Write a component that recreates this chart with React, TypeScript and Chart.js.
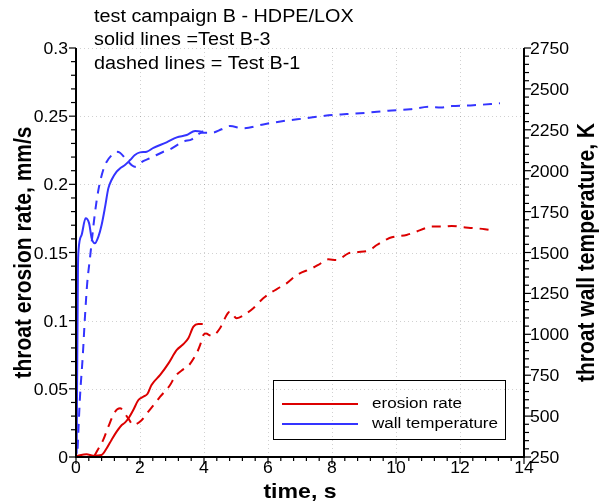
import React, { useEffect, useRef } from 'react';
import { Chart, registerables } from 'chart.js';
Chart.register(...registerables);

// ---- data ----
// Test B-3 (solid): wall temperature, K
const b3TempTime = [0.02, 0.06, 0.08, 0.18, 0.30, 0.41, 0.49, 0.59, 0.70, 0.80, 0.91, 1.01, 1.11, 1.27, 1.38, 1.53, 1.69, 1.84, 2.00, 2.21, 2.42, 2.83, 3.15, 3.46, 3.72, 3.93, 3.98];
const b3Temp = [270, 1390, 1515, 1610, 1709, 1678, 1587, 1556, 1597, 1668, 1780, 1892, 1943, 1994, 2015, 2035, 2065, 2096, 2112, 2116, 2140, 2173, 2204, 2218, 2243, 2238, 2240];
// Test B-1 (dashed): wall temperature, K
const b1TempTime = [0.05, 0.08, 0.125, 0.21, 0.28, 0.35, 0.44, 0.59, 0.70, 0.85, 0.96, 1.12, 1.27, 1.375, 1.63, 1.84, 2.10, 2.31, 2.73, 2.94, 3.35, 3.62, 3.93, 4.24, 4.55, 4.81, 5.23, 5.85, 6.53, 7.16, 7.78, 8.46, 9.08, 9.76, 10.44, 11.06, 11.4, 11.74, 12.42, 13.25];
const b1Temp = [300, 433, 619, 863, 1107, 1311, 1472, 1738, 1882, 2004, 2055, 2096, 2116, 2110, 2055, 2024, 2059, 2076, 2116, 2131, 2177, 2192, 2232, 2232, 2253, 2273, 2259, 2283, 2305, 2320, 2336, 2346, 2354, 2367, 2375, 2391, 2386, 2395, 2400, 2412];
// Test B-3 (solid): erosion rate, mm/s
const b3RateTime = [0.02, 0.33, 0.54, 0.80, 0.96, 1.11, 1.27, 1.43, 1.53, 1.64, 1.79, 1.95, 2.10, 2.23, 2.36, 2.63, 2.89, 3.15, 3.35, 3.51, 3.67, 3.82, 3.96];
const b3Rate = [0.0007, 0.002, 0.001, 0.0015, 0.0064, 0.0125, 0.0186, 0.0235, 0.0252, 0.0284, 0.0345, 0.0418, 0.0442, 0.0462, 0.0528, 0.0602, 0.0687, 0.0785, 0.0827, 0.0871, 0.0956, 0.0976, 0.0976];
// Test B-1 (dashed): erosion rate, mm/s
const b1RateTime = [0.58, 0.65, 0.85, 1.01, 1.22, 1.375, 1.63, 1.79, 2.05, 2.26, 2.47, 2.63, 2.94, 3.09, 3.35, 3.51, 3.77, 3.88, 3.98, 4.06, 4.24, 4.5, 4.6, 4.81, 5.02, 5.33, 5.54, 5.85, 6.06, 6.375, 6.58, 6.90, 7.37, 7.57, 7.88, 8.15, 8.51, 8.77, 9.19, 9.40, 9.71, 9.87, 10.33, 10.59, 10.91, 11.06, 11.48, 11.74, 12.10, 12.37, 12.78, 13.09];
const b1Rate = [0.001, 0.004, 0.0125, 0.0222, 0.0332, 0.0357, 0.0284, 0.0235, 0.027, 0.0332, 0.0394, 0.0442, 0.0528, 0.0589, 0.0643, 0.0668, 0.0761, 0.0822, 0.0895, 0.0905, 0.0888, 0.0944, 0.0993, 0.1066, 0.1018, 0.1054, 0.1091, 0.1164, 0.1201, 0.1245, 0.1274, 0.1335, 0.1384, 0.1409, 0.1450, 0.1445, 0.1494, 0.1502, 0.1519, 0.1555, 0.1597, 0.1612, 0.1629, 0.1649, 0.1678, 0.1690, 0.1690, 0.1695, 0.1685, 0.1680, 0.1671, 0.1660];

// ---- ticks / labels ----
const xTicks = [0, 2, 4, 6, 8, 10, 12, 14];
const xTickLabels = ['0', '2', '4', '6', '8', '10', '12', '14'];
const leftTicks = [0, 0.05, 0.1, 0.15, 0.2, 0.25, 0.3];
const leftTickLabels = ['0', '0.05', '0.1', '0.15', '0.2', '0.25', '0.3'];
const rightTicks = [250, 500, 750, 1000, 1250, 1500, 1750, 2000, 2250, 2500, 2750];
const rightTickLabels = ['250', '500', '750', '1000', '1250', '1500', '1750', '2000', '2250', '2500', '2750'];
const headerLines = ['test campaign B - HDPE/LOX', 'solid lines =Test B-3', 'dashed lines = Test B-1'];
const legendLabels = ['erosion rate', 'wall temperature'];
const xTitle = 'time, s';
const leftTitle = 'throat erosion rate, mm/s';
const rightTitle = 'throat wall temperature, K';

const RED = '#dc0000';
const BLUE = '#3434ff';
const FONT = '"Liberation Sans", Arial, Helvetica, sans-serif';
const SX = 1.1;

function txt(ctx: CanvasRenderingContext2D, s: string, x: number, y: number, align: CanvasTextAlign, base: CanvasTextBaseline = 'alphabetic') {
  ctx.save();
  ctx.translate(x, y);
  ctx.scale(SX, 1);
  ctx.textAlign = align;
  ctx.textBaseline = base;
  ctx.fillText(s, 0, 0);
  ctx.restore();
}
function vtxt(ctx: CanvasRenderingContext2D, s: string, x: number, y: number) {
  ctx.save();
  ctx.translate(x, y);
  ctx.rotate(-Math.PI / 2);
  ctx.scale(1, SX);
  ctx.textAlign = 'center';
  ctx.textBaseline = 'alphabetic';
  ctx.fillText(s, 0, 0);
  ctx.restore();
}

const framePlugin = {
  id: 'frame',
  beforeDatasetsDraw(chart: any) {
    const { ctx, chartArea: a, scales } = chart;
    ctx.save();
    ctx.strokeStyle = 'rgba(0,0,0,0.18)';
    ctx.lineWidth = 1;
    ctx.setLineDash([1, 3]);
    xTicks.forEach((v) => {
      if (v === 0 || v === 14) return;
      const px = Math.round(scales.x.getPixelForValue(v)) + 0.5;
      ctx.beginPath(); ctx.moveTo(px, a.top); ctx.lineTo(px, a.bottom); ctx.stroke();
    });
    leftTicks.forEach((v) => {
      if (v === 0) return;
      const py = Math.round(scales.y.getPixelForValue(v)) + 0.5;
      ctx.beginPath(); ctx.moveTo(a.left, py); ctx.lineTo(a.right, py); ctx.stroke();
    });
    ctx.restore();
  },
  afterDatasetsDraw(chart: any) {
    const { ctx, chartArea: a, scales } = chart;
    ctx.save();
    ctx.setLineDash([]);
    ctx.strokeStyle = '#000';
    ctx.fillStyle = '#000';
    // axes
    ctx.lineWidth = 2;
    ctx.beginPath();
    ctx.moveTo(a.left, a.top); ctx.lineTo(a.left, a.bottom); ctx.lineTo(a.right, a.bottom); ctx.lineTo(a.right, a.top);
    ctx.stroke();
    // ticks
    ctx.lineWidth = 1.2;
    for (let i = 0; i <= 35; i++) {
      const v = i * 0.4;
      const major = i % 5 === 0;
      const px = scales.x.getPixelForValue(v);
      ctx.beginPath(); ctx.moveTo(px, a.bottom); ctx.lineTo(px, a.bottom + (major ? 7 : 4)); ctx.stroke();
    }
    for (let i = 0; i <= 30; i++) {
      const v = i * 0.01;
      const major = i % 5 === 0;
      const py = scales.y.getPixelForValue(v);
      ctx.beginPath(); ctx.moveTo(a.left, py); ctx.lineTo(a.left - (major ? 7 : 5), py); ctx.stroke();
    }
    for (let i = 0; i <= 50; i++) {
      const v = 250 + i * 50;
      const major = i % 5 === 0;
      const py = scales.y2.getPixelForValue(v);
      ctx.beginPath(); ctx.moveTo(a.right, py); ctx.lineTo(a.right + (major ? 7 : 5), py); ctx.stroke();
    }
    // tick labels
    ctx.font = `16px ${FONT}`;
    xTicks.forEach((v, i) => txt(ctx, xTickLabels[i], scales.x.getPixelForValue(v), a.bottom + 16, 'center'));
    leftTicks.forEach((v, i) => txt(ctx, leftTickLabels[i], a.left - 8, scales.y.getPixelForValue(v) + 6, 'right'));
    rightTicks.forEach((v, i) => txt(ctx, rightTickLabels[i], a.right + 6, scales.y2.getPixelForValue(v) + 6, 'left'));
    // axis titles
    ctx.font = `bold 21px ${FONT}`;
    txt(ctx, xTitle, (a.left + a.right) / 2, 498, 'center');
    vtxt(ctx, leftTitle, 31, (a.top + a.bottom) / 2);
    vtxt(ctx, rightTitle, 594, (a.top + a.bottom) / 2);
    // header text
    ctx.font = `18px ${FONT}`;
    headerLines.forEach((s, i) => txt(ctx, s, 94, 21.5 + i * 23.5, 'left'));
    // legend
    ctx.lineWidth = 1;
    ctx.strokeStyle = '#000';
    ctx.strokeRect(273.5, 380.5, 232, 59);
    ctx.lineWidth = 2;
    [RED, BLUE].forEach((c, i) => {
      const y = 404 + i * 20;
      ctx.strokeStyle = c;
      ctx.beginPath(); ctx.moveTo(282, y); ctx.lineTo(358, y); ctx.stroke();
    });
    ctx.font = `15.5px ${FONT}`;
    ctx.fillStyle = '#000';
    legendLabels.forEach((s, i) => txt(ctx, s, 372, 404 + i * 20, 'left', 'middle'));
    ctx.restore();
  },
};

function pts(xs: number[], ys: number[]) {
  return xs.map((x, i) => ({ x, y: ys[i] }));
}

export default function App() {
  const ref = useRef<HTMLCanvasElement>(null);
  useEffect(() => {
    const common = { pointRadius: 0, borderWidth: 2, fill: false, cubicInterpolationMode: 'monotone' as const };
    const chart = new Chart(ref.current!, {
      type: 'line',
      data: {
        datasets: [
          { ...common, label: 'B-1 erosion rate', data: pts(b1RateTime, b1Rate), borderColor: RED, borderDash: [9, 7], yAxisID: 'y' },
          { ...common, label: 'B-1 wall temperature', data: pts(b1TempTime, b1Temp), borderColor: BLUE, borderDash: [9, 7], yAxisID: 'y2' },
          { ...common, label: 'B-3 erosion rate', data: pts(b3RateTime, b3Rate), borderColor: RED, yAxisID: 'y' },
          { ...common, label: 'B-3 wall temperature', data: pts(b3TempTime, b3Temp), borderColor: BLUE, yAxisID: 'y2' },
        ],
      },
      options: {
        responsive: false,
        animation: false,
        layout: { padding: { left: 76, right: 79, top: 48, bottom: 47 } },
        scales: {
          x: { type: 'linear', min: 0, max: 14, display: false },
          y: { type: 'linear', min: 0, max: 0.3, display: false },
          y2: { type: 'linear', min: 250, max: 2750, display: false },
        },
        plugins: { legend: { display: false }, tooltip: { enabled: false } },
      },
      plugins: [framePlugin],
    });
    return () => chart.destroy();
  }, []);
  return (
    <div style={{ position: 'fixed', left: 0, top: 0, width: 603, height: 504, background: '#fff' }}>
      <canvas ref={ref} width={603} height={504} style={{ display: 'block', width: 603, height: 504 }} />
    </div>
  );
}
